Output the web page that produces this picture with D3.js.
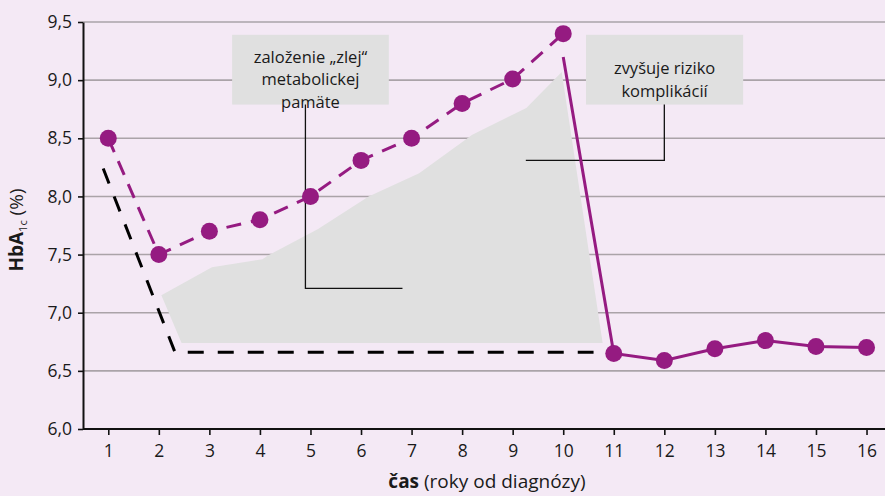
<!DOCTYPE html>
<html>
<head>
<meta charset="utf-8">
<script src="https://cdn.jsdelivr.net/npm/d3@7"></script>
<style>
  body { margin: 0; background: #f4e9f5; }
  svg { display: block; font-family: "Open Sans", "Noto Sans", sans-serif; }
</style>
</head>
<body>
<script>
// data
const years = d3.range(1, 17);
const yTicks = [6.0, 6.5, 7.0, 7.5, 8.0, 8.5, 9.0, 9.5];

// years 1..10, poor control (dashed purple)
const earlyYears = [1, 2, 3, 4, 5, 6, 7, 8, 9, 10];
const earlyValues = [8.5, 7.5, 7.7, 7.8, 8.0, 8.31, 8.5, 8.8, 9.01, 9.4];

// drop after year 10 (solid purple)
const lateYears = [10, 11, 12, 13, 14, 15, 16];
const lateValues = [9.2, 6.65, 6.59, 6.69, 6.76, 6.71, 6.70];

// target path (black dashed)
const targetX = [0.9, 2.32, 10.6];
const targetY = [8.24, 6.66, 6.66];

// "memory" area (gray)
const areaX = [2.05, 3.05, 4.05, 4.15, 5.15, 6.15, 7.15, 8.2, 9.27, 9.97, 10.78, 2.45];
const areaY = [7.15, 7.39, 7.46, 7.49, 7.72, 8.0, 8.2, 8.53, 8.76, 9.07, 6.74, 6.74];

const noteTexts = [
  ["založenie „zlej“", "metabolickej", "pamäte"],
  ["zvyšuje riziko", "komplikácií"]
];

const W = 885, H = 496;
const purple = "#951b81";

const svg = d3.select("body").append("svg")
  .attr("width", W)
  .attr("height", H);

svg.append("rect").attr("width", W).attr("height", H).attr("fill", "#f4e9f5");

var x = d3.scaleLinear().domain([0.5, 16.5]).range([83, 83 + 16 * 50.55]);
var y = d3.scaleLinear().domain([6, 9.5]).range([429, 22]);

// grid lines
svg.append("g")
  .selectAll("line")
  .data(yTicks.slice(1))
  .enter()
  .append("line")
  .attr("x1", 83)
  .attr("x2", W)
  .attr("y1", d => y(d))
  .attr("y2", d => y(d))
  .attr("stroke", "#aaa3a8")
  .attr("stroke-width", 1.6);

// gray area
svg.append("path")
  .attr("d", d3.line().x((d, i) => x(areaX[i])).y((d, i) => y(areaY[i]))(areaX) + "Z")
  .attr("fill", "#e0e0e0");

// annotation boxes
const boxes = [
  { x0: 3.45, x1: 6.55, y0: 9.39, y1: 8.79, lines: noteTexts[0], base: 9.15, lead: [[4.9, 8.79], [4.9, 7.21], [6.82, 7.21]] },
  { x0: 10.45, x1: 13.56, y0: 9.39, y1: 8.79, lines: noteTexts[1], base: 9.05, lead: [[12.0, 8.79], [12.0, 8.31], [9.26, 8.31]] }
];

boxes.forEach(b => {
  svg.append("rect")
    .attr("x", x(b.x0))
    .attr("y", y(b.y0))
    .attr("width", x(b.x1) - x(b.x0))
    .attr("height", y(b.y1) - y(b.y0))
    .attr("fill", "#e0e0e0");

  svg.append("path")
    .attr("d", d3.line().x(d => x(d[0])).y(d => y(d[1]))(b.lead))
    .attr("fill", "none")
    .attr("stroke", "#111")
    .attr("stroke-width", 1.3);

  svg.append("text")
    .attr("text-anchor", "middle")
    .attr("font-size", "16.5px")
    .attr("fill", "#1a1a1a")
    .selectAll("tspan")
    .data(b.lines)
    .enter()
    .append("tspan")
    .attr("x", (x(b.x0) + x(b.x1)) / 2)
    .attr("y", (d, i) => y(b.base) + i * 22.6)
    .text(d => d);
});

// black dashed target line
svg.append("path")
  .attr("d", d3.line().x((d, i) => x(targetX[i])).y((d, i) => y(targetY[i]))(targetX))
  .attr("fill", "none")
  .attr("stroke", "#000")
  .attr("stroke-width", 3)
  .attr("stroke-dasharray", "16,14");

// purple dashed line
svg.append("path")
  .attr("d", d3.line().x((d, i) => x(earlyYears[i])).y((d, i) => y(earlyValues[i]))(earlyYears))
  .attr("fill", "none")
  .attr("stroke", purple)
  .attr("stroke-width", 3)
  .attr("stroke-dasharray", "15,10");

// purple solid line
svg.append("path")
  .attr("d", d3.line().x((d, i) => x(lateYears[i])).y((d, i) => y(lateValues[i]))(lateYears))
  .attr("fill", "none")
  .attr("stroke", purple)
  .attr("stroke-width", 3);

// markers
const pts = earlyYears.map((d, i) => [d, earlyValues[i]])
  .concat(lateYears.slice(1).map((d, i) => [d, lateValues[i + 1]]));

svg.append("g")
  .selectAll("circle")
  .data(pts)
  .enter()
  .append("circle")
  .attr("cx", d => x(d[0]))
  .attr("cy", d => y(d[1]))
  .attr("r", 8.5)
  .attr("fill", purple);

// axes
const fmt = d => d3.format(".1f")(d).replace(".", ",");

var xAxis = svg.append("g")
  .attr("transform", "translate(0," + y(6) + ")")
  .call(d3.axisBottom(x).tickValues(years).tickSize(6).tickPadding(10).tickSizeOuter(0));

var yAxis = svg.append("g")
  .attr("transform", "translate(" + x(0.5) + ",0)")
  .call(d3.axisLeft(y).tickValues(yTicks).tickFormat(fmt).tickSize(5).tickPadding(6).tickSizeOuter(0));

[xAxis, yAxis].forEach(a => {
  a.selectAll("text").attr("font-size", "17.5px").attr("fill", "#1a1a1a").attr("font-family", "Open Sans");
  a.selectAll(".tick line").attr("stroke", "#111").attr("stroke-width", 1.6);
  a.select(".domain").attr("stroke", "#111").attr("stroke-width", 2);
});
xAxis.select(".domain").attr("d", "M83,0H" + W);

// axis titles
const xt = svg.append("text")
  .attr("x", 487)
  .attr("y", 488)
  .attr("text-anchor", "middle")
  .attr("font-size", "19px")
  .attr("fill", "#1a1a1a");
xt.append("tspan").attr("font-weight", "bold").text("čas");
xt.append("tspan").text(" (roky od diagnózy)");

const yt = svg.append("text")
  .attr("transform", "translate(23,230) rotate(-90)")
  .attr("text-anchor", "middle")
  .attr("font-size", "19px")
  .attr("fill", "#1a1a1a");
yt.append("tspan").attr("font-weight", "bold").text("HbA");
yt.append("tspan").attr("font-size", "11px").attr("dy", 4).text("1c");
yt.append("tspan").attr("dy", -4).text(" (%)");
</script>
</body>
</html>
